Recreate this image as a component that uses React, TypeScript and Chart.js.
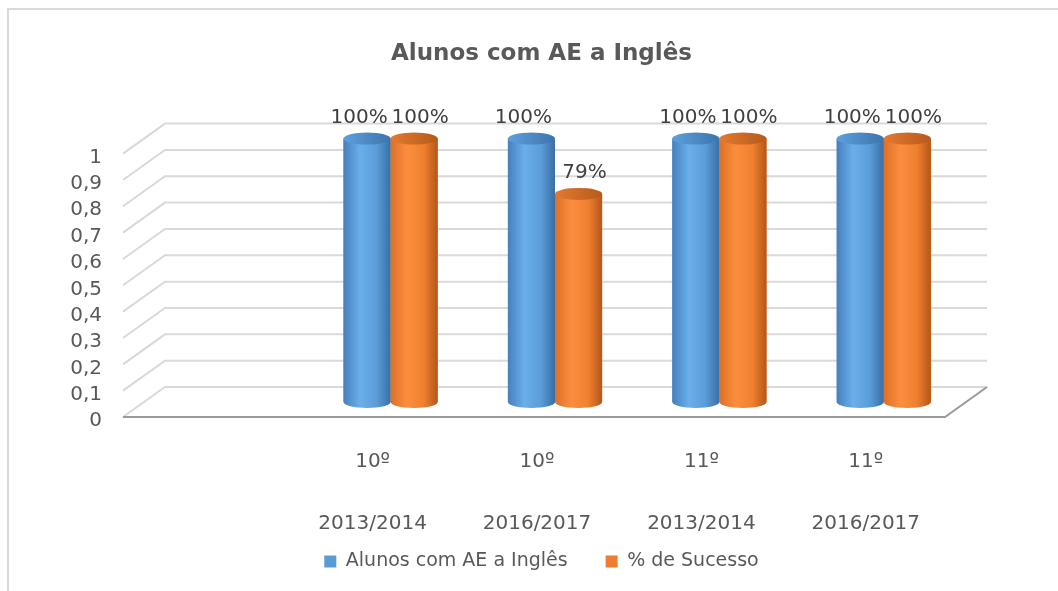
import React, { useEffect, useRef } from "react";
import { Chart, registerables } from "chart.js";

Chart.register(...registerables);

const chartTitle = "Alunos com AE a Inglês";
const categories = [
  "",
  ["10º", "", "", "2013/2014"],
  ["10º", "", "", "2016/2017"],
  ["11º", "", "", "2013/2014"],
  ["11º", "", "", "2016/2017"],
];
const seriesNames = ["Alunos com AE a Inglês", "% de Sucesso"];
const alunosValues = [null, 1, 1, 1, 1];
const sucessoValues = [null, 1, 0.79, 1, 1];
const seriesColors = ["#5b9bd5", "#ed7d31"];

const FONT = "DejaVu Sans";
const DX = 21;
const DY = 15;

const bodyStops = [
  [
    [0, "#4680bd"],
    [0.35, "#6aaeea"],
    [0.7, "#5a9dd9"],
    [1, "#3a6ea5"],
  ],
  [
    [0, "#de7026"],
    [0.35, "#fb8e3e"],
    [0.7, "#f0802f"],
    [1, "#b3571a"],
  ],
];
const capStops = [
  [
    [0, "#5e9fdc"],
    [1, "#3c74ae"],
  ],
  [
    [0, "#e37a30"],
    [1, "#b65a1b"],
  ],
];

const wallPlugin = {
  id: "wall3d",
  beforeDatasetsDraw(chart: any) {
    const { ctx, chartArea, scales } = chart;
    const y = scales.y;
    ctx.save();
    ctx.strokeStyle = "#d9d9d9";
    ctx.lineWidth = 2;
    y.ticks.forEach((t: any) => {
      const py = y.getPixelForValue(t.value);
      ctx.beginPath();
      ctx.moveTo(chartArea.left - DX, py + DY);
      ctx.lineTo(chartArea.left + DX, py - DY);
      ctx.lineTo(chartArea.right + DX, py - DY);
      ctx.stroke();
    });
    const p0 = y.getPixelForValue(0);
    ctx.strokeStyle = "#9a9a9a";
    ctx.lineWidth = 2;
    ctx.beginPath();
    ctx.moveTo(chartArea.left - DX, p0 + DY);
    ctx.lineTo(chartArea.right - DX, p0 + DY);
    ctx.lineTo(chartArea.right + DX, p0 - DY);
    ctx.stroke();
    ctx.restore();
  },
};

const cylinderPlugin = {
  id: "cylinders",
  afterDatasetsDraw(chart: any) {
    const { ctx } = chart;
    ctx.save();
    chart.data.datasets.forEach((ds: any, di: number) => {
      const meta = chart.getDatasetMeta(di);
      meta.data.forEach((bar: any, i: number) => {
        if (ds.data[i] == null) return;
        const { x, y, base, width } = bar.getProps(["x", "y", "base", "width"], true);
        const l = x - width / 2;
        const r = x + width / 2;
        const ry = 6;
        const g = ctx.createLinearGradient(l, 0, r, 0);
        bodyStops[di].forEach(([o, c]: any) => g.addColorStop(o, c));
        ctx.fillStyle = g;
        ctx.beginPath();
        ctx.moveTo(l, y);
        ctx.lineTo(l, base);
        ctx.ellipse(x, base, width / 2, ry, 0, Math.PI, 0, true);
        ctx.lineTo(r, y);
        ctx.closePath();
        ctx.fill();
        const cg = ctx.createLinearGradient(l, 0, r, 0);
        capStops[di].forEach(([o, c]: any) => cg.addColorStop(o, c));
        ctx.fillStyle = cg;
        ctx.beginPath();
        ctx.ellipse(x, y, width / 2, ry, 0, 0, Math.PI * 2);
        ctx.fill();
      });
    });
    ctx.restore();
  },
};

const labelOffsets = [-8, 6];
const dataLabelPlugin = {
  id: "dataLabels",
  afterDatasetsDraw(chart: any) {
    const { ctx } = chart;
    ctx.save();
    ctx.font = `20px "${FONT}"`;
    ctx.fillStyle = "#404040";
    ctx.textAlign = "center";
    ctx.textBaseline = "middle";
    chart.data.datasets.forEach((ds: any, di: number) => {
      const meta = chart.getDatasetMeta(di);
      meta.data.forEach((bar: any, i: number) => {
        const v = ds.data[i];
        if (v == null) return;
        const { x, y } = bar.getProps(["x", "y"], true);
        ctx.fillText(Math.round(v * 100) + "%", x + labelOffsets[di], y - 21);
      });
    });
    ctx.restore();
  },
};

export default function App() {
  const canvasRef = useRef<HTMLCanvasElement | null>(null);

  useEffect(() => {
    if (!canvasRef.current) return;
    const chart = new Chart(canvasRef.current, {
      type: "bar",
      data: {
        labels: categories as any,
        datasets: [
          {
            label: seriesNames[0],
            data: alunosValues as any,
            backgroundColor: seriesColors[0],
            borderWidth: 0,
            categoryPercentage: 0.573,
            barPercentage: 1,
          },
          {
            label: seriesNames[1],
            data: sucessoValues as any,
            backgroundColor: seriesColors[1],
            borderWidth: 0,
            categoryPercentage: 0.573,
            barPercentage: 1,
          },
        ],
      },
      options: {
        responsive: true,
        maintainAspectRatio: false,
        animation: false,
        layout: { padding: { left: 60, right: 44, top: 0, bottom: 10 } },
        plugins: {
          title: {
            display: true,
            text: chartTitle,
            color: "#595959",
            font: { family: FONT, size: 23, weight: "bold" },
            padding: { top: 30, bottom: 71 },
          },
          legend: {
            position: "bottom",
            labels: {
              boxWidth: 12,
              boxHeight: 12,
              padding: 38,
              color: "#595959",
              font: { family: FONT, size: 19 },
            },
          },
          tooltip: { enabled: false },
        },
        scales: {
          x: {
            grid: { display: false, drawTicks: false },
            border: { display: false },
            ticks: {
              color: "#595959",
              font: { family: FONT, size: 20, lineHeight: 1.03 },
              mirror: true,
              padding: -70,
              labelOffset: -18,
              maxRotation: 0,
              autoSkip: false,
            },
            afterFit: (s: any) => {
              s.height = 112;
            },
          },
          y: {
            min: 0,
            max: 1,
            grid: { display: false, drawTicks: false },
            border: { display: false },
            ticks: {
              stepSize: 0.1,
              autoSkip: false,
              padding: 42,
              labelOffset: 19,
              color: "#595959",
              font: { family: FONT, size: 20 },
              callback: (v: any) => String(Number(Number(v).toFixed(1))).replace(".", ","),
            },
            afterFit: (s: any) => {
              s.width = 75;
            },
          },
          yRight: {
            type: "linear",
            position: "right",
            display: true,
            grid: { display: false, drawTicks: false },
            border: { display: false },
            ticks: { display: false },
            afterFit: (s: any) => {
              s.width = 48;
            },
          },
        },
      } as any,
      plugins: [wallPlugin, cylinderPlugin, dataLabelPlugin],
    });
    return () => chart.destroy();
  }, []);

  return (
    <div
      style={{
        position: "absolute",
        left: 7,
        top: 8,
        width: 1051,
        height: 583,
        boxSizing: "border-box",
        borderTop: "2px solid #d9d9d9",
        borderLeft: "2px solid #d9d9d9",
        background: "#ffffff",
      }}
    >
      <div style={{ position: "relative", width: 1049, height: 581 }}>
        <canvas ref={canvasRef} />
      </div>
    </div>
  );
}
